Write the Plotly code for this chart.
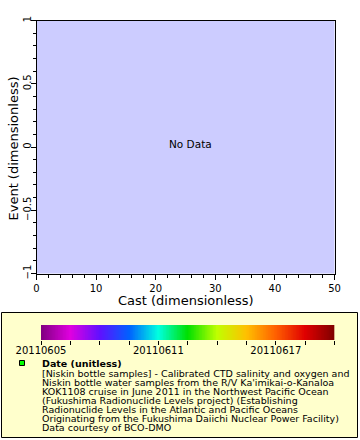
import numpy as np
import plotly.graph_objects as go

W, H = 360, 440

# ---- data ----
cast_values = []   # no data
event_values = []  # no data
cast_range = [0, 50]
event_range = [-1, 1]
x_tick_vals = [0, 10, 20, 30, 40, 50]
y_tick_vals = [-1, -0.5, 0, 0.5, 1]
date_range = [20110605, 20110620]
date_tick_vals = [20110605, 20110611, 20110617]
date_tick_text = ["20110605", "20110611", "20110617"]
date_minor_vals = [20110606.5, 20110608, 20110609.5, 20110612.5,
                   20110614, 20110615.5, 20110618.5, 20110620]
legend_title = "Date (unitless)"
legend_lines = [
    "[Niskin bottle samples] - Calibrated CTD salinity and oxygen and",
    "Niskin bottle water samples from the R/V Ka'imikai-o-Kanaloa",
    "KOK1108 cruise in June 2011 in the Northwest Pacific Ocean",
    "(Fukushima Radionuclide Levels project) (Establishing",
    "Radionuclide Levels in the Atlantic and Pacific Oceans",
    "Originating from the Fukushima Daiichi Nuclear Power Facility)",
    "Data courtesy of BCO-DMO",
]
colorscale = [
    [0.0, "#800080"], [0.1, "#e000e0"], [0.2, "#6010ff"], [0.3, "#0060ff"],
    [0.4, "#00ffe0"], [0.5, "#00e000"], [0.6, "#c0ff00"], [0.7, "#ffc000"],
    [0.8, "#ff6000"], [0.9, "#e00000"], [1.0, "#800000"],
]

FONT = "DejaVu Sans"

def px(x):
    return x / W

def py(y):
    return 1 - y / H

fig = go.Figure()

# empty main data trace (the chart has no data)
fig.add_trace(go.Scatter(x=cast_values, y=event_values, mode="markers",
                         xaxis="x", yaxis="y", hoverinfo="skip"))

# colorbar gradient as a heatmap
grad = np.linspace(date_range[0], date_range[1], 400)
fig.add_trace(go.Heatmap(
    x=grad, y=[0], z=[grad], colorscale=colorscale,
    zmin=date_range[0], zmax=date_range[1], showscale=False,
    xaxis="x2", yaxis="y2", hoverinfo="skip",
))

axis_common = dict(
    showgrid=False, zeroline=False, showline=True, linecolor="black",
    linewidth=1, mirror=True, ticks="outside", ticklen=5, tickcolor="black",
    tickfont=dict(family=FONT, size=10, color="black"), automargin=False,
)

fig.update_layout(
    width=W, height=H,
    margin=dict(l=0, r=0, t=0, b=0),
    paper_bgcolor="white",
    plot_bgcolor="#ccccff",
    showlegend=False,
    xaxis=dict(
        **axis_common, domain=[px(36.5), px(334.5)], range=cast_range,
        tickvals=x_tick_vals, anchor="y",
        minor=dict(dtick=2, ticks="outside", ticklen=3, tickcolor="black"),
    ),
    yaxis=dict(
        **axis_common, domain=[py(273.5), py(20.5)], range=event_range,
        tickvals=y_tick_vals, tickangle=-90, anchor="x",
        ticklabelstandoff=-4,
        minor=dict(dtick=0.1, ticks="outside", ticklen=3, tickcolor="black"),
    ),
    xaxis2=dict(
        domain=[px(41), px(334.5)], range=date_range, anchor="y2",
        showgrid=False, zeroline=False, showline=False,
        ticks="outside", ticklen=4, tickcolor="black",
        tickvals=date_tick_vals, ticktext=date_tick_text,
        tickfont=dict(family=FONT, size=10, color="black"),
        ticklabelstandoff=-3,
        minor=dict(tickvals=date_minor_vals,
                   ticks="outside", ticklen=4, tickcolor="black"),
        automargin=False,
    ),
    yaxis2=dict(
        domain=[py(340), py(325)], range=[-0.5, 0.5], anchor="x2",
        showgrid=False, zeroline=False, showline=False, showticklabels=False,
        ticks="", automargin=False,
    ),
    shapes=[
        dict(type="rect", xref="paper", yref="paper", layer="below",
             x0=px(1.5), x1=px(357.5), y0=py(437.5), y1=py(312.5),
             fillcolor="#ffffcc", line=dict(color="black", width=1)),
        dict(type="rect", xref="paper", yref="paper", layer="above",
             x0=px(19.5), x1=px(24.5), y0=py(365.5), y1=py(360.5),
             fillcolor="#00ff00", line=dict(color="black", width=1)),
    ],
)

center = dict(xanchor="center", yanchor="middle", showarrow=False,
              xref="paper", yref="paper")
annotations = [
    dict(text="No Data", x=px(190.5), y=py(144), **center,
         font=dict(family=FONT, size=10.5, color="black")),
    dict(text="Cast (dimensionless)", x=px(186), y=py(300), **center,
         font=dict(family=FONT, size=13, color="black")),
    dict(text="Event (dimensionless)", x=px(12.5), y=py(149), textangle=-90,
         **center, font=dict(family=FONT, size=13, color="black")),
    dict(text="<b>" + legend_title + "</b>", x=px(40), y=py(363),
         xref="paper", yref="paper", xanchor="left", yanchor="middle",
         showarrow=False, font=dict(family=FONT, size=9.5, color="black")),
]
for i, line in enumerate(legend_lines):
    annotations.append(dict(
        text=line, x=px(40), y=py(373 + 9 * i), xref="paper", yref="paper",
        xanchor="left", yanchor="middle", showarrow=False,
        font=dict(family=FONT, size=9.5, color="black")))
fig.update_layout(annotations=annotations)

fig.write_html("out.html",
               config={"displayModeBar": False},
               post_script="document.body.style.margin='0';"
                           "document.body.style.padding='0';")
